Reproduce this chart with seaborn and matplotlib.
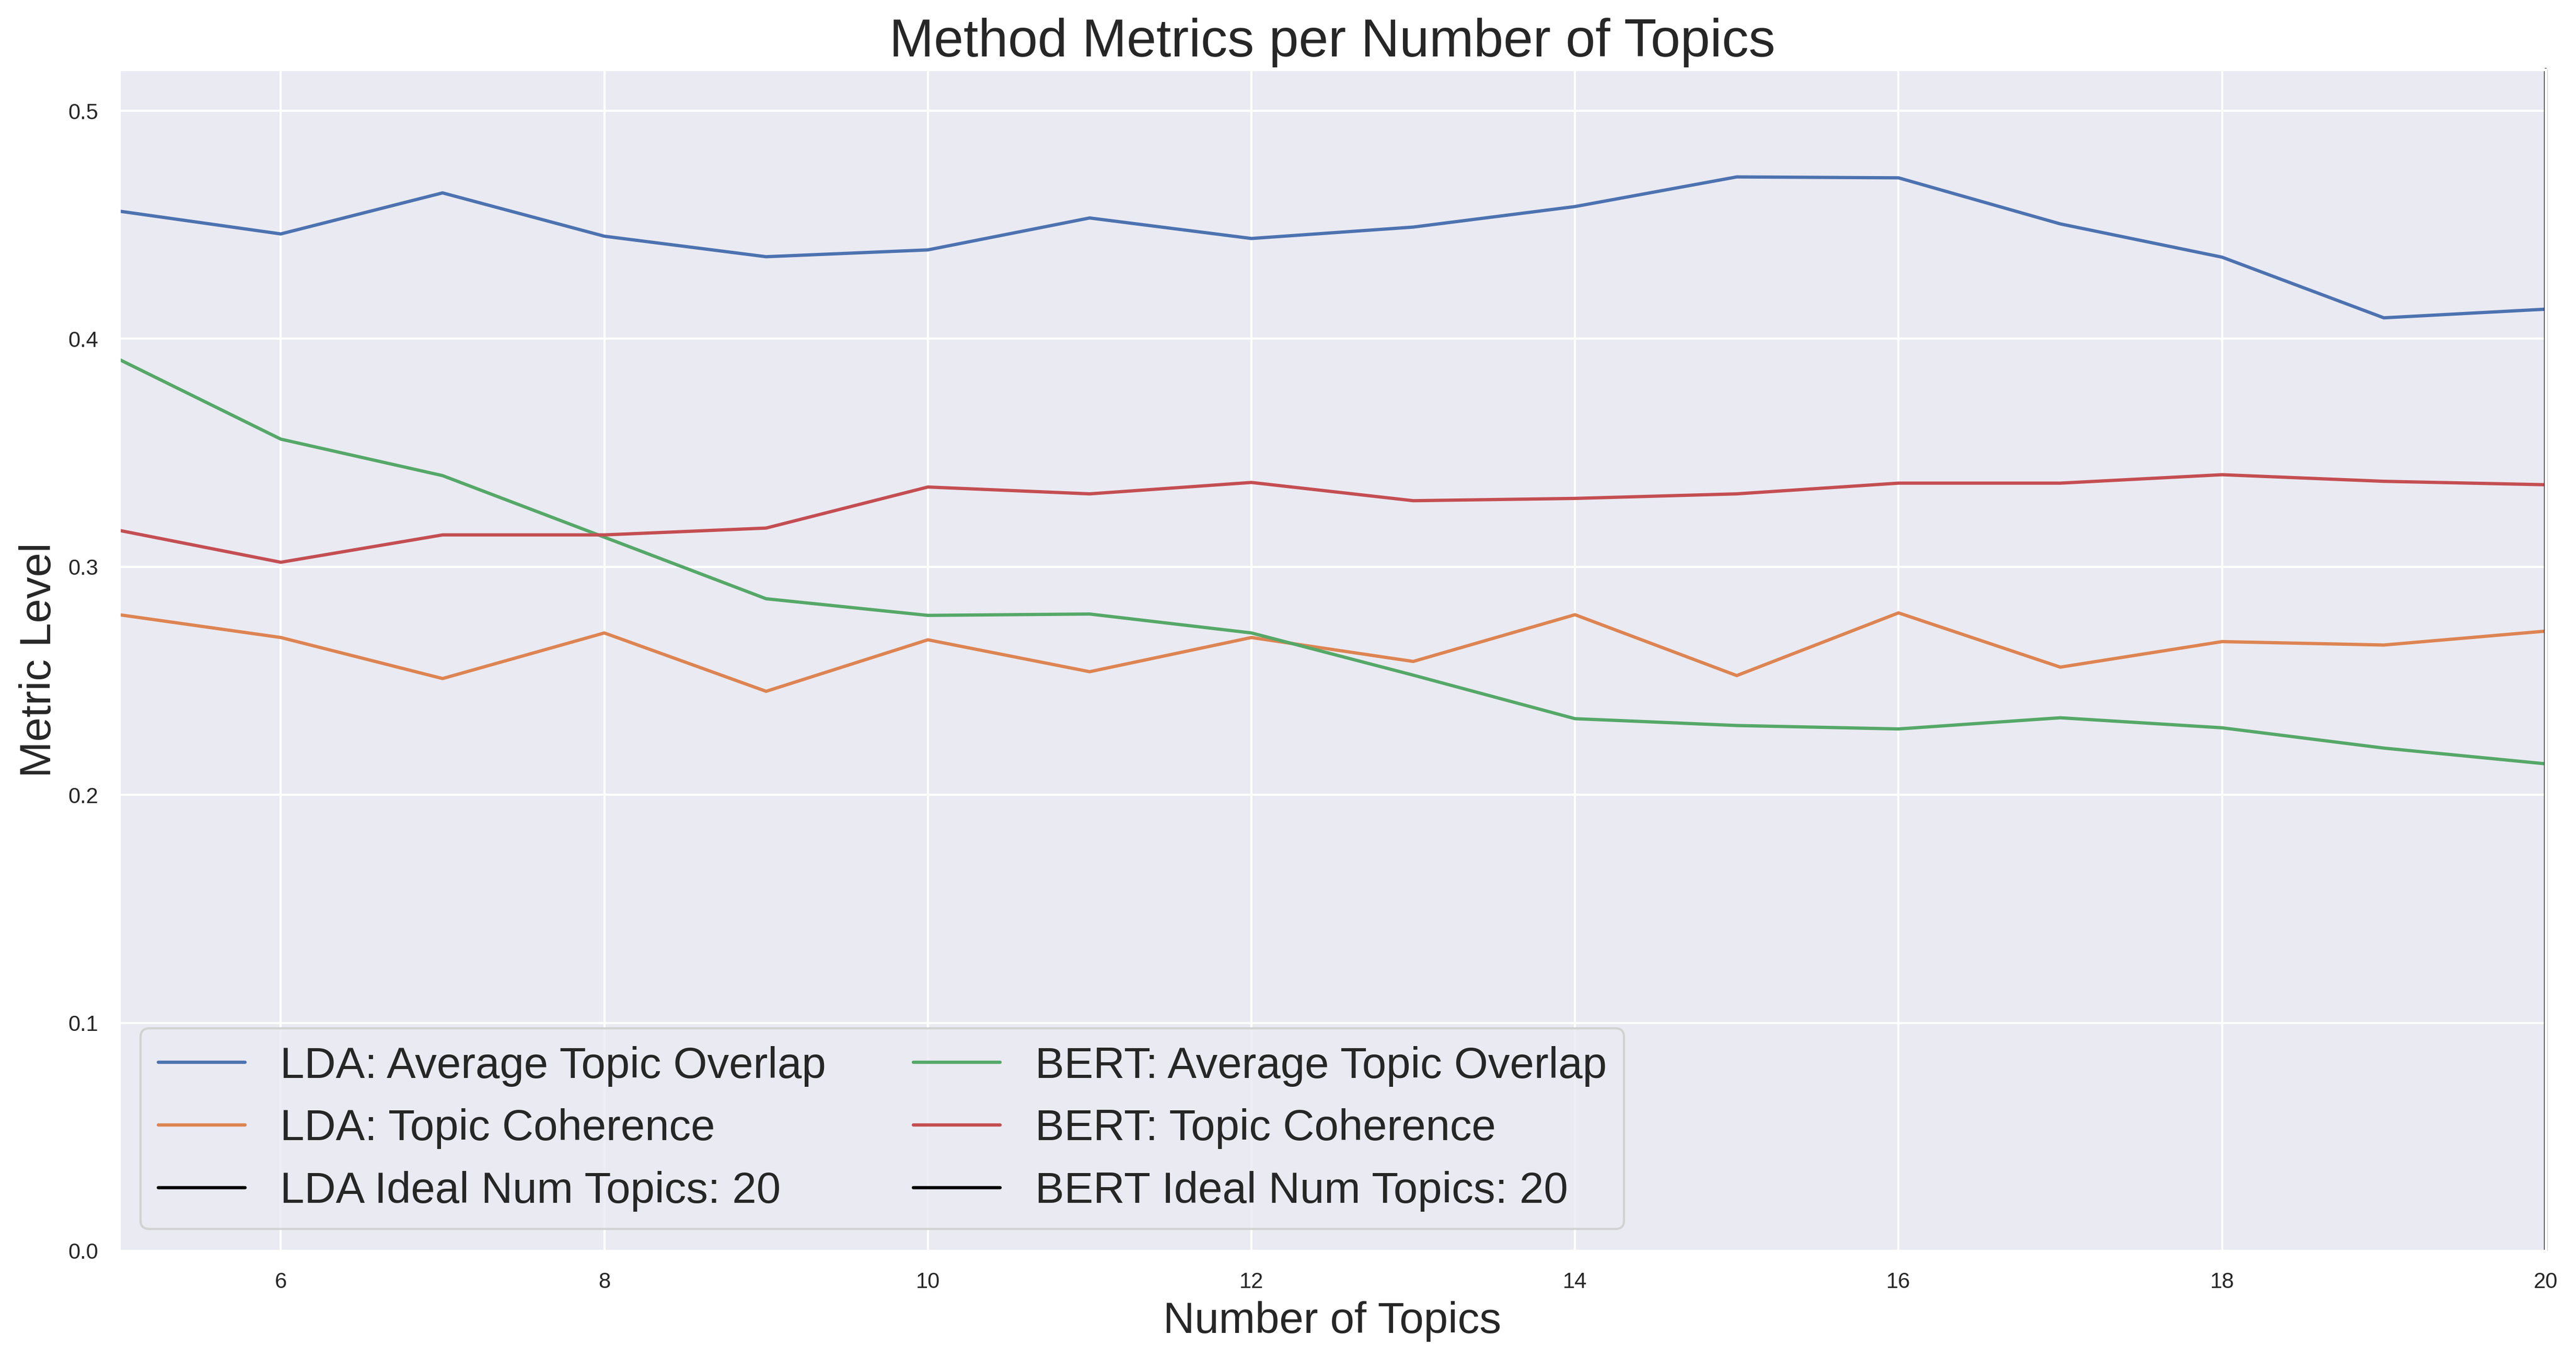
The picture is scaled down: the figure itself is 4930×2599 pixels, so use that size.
import pandas as pd
import matplotlib.pyplot as plt
import seaborn as sns

# values
num_topics = list(range(5, 21))
lda_overlap = [0.456, 0.446, 0.464, 0.445, 0.436, 0.439, 0.453, 0.444, 0.449, 0.458,
               0.471, 0.4706, 0.4504, 0.4358, 0.4092, 0.413]
lda_coherence = [0.279, 0.269, 0.251, 0.271, 0.2454, 0.268, 0.254, 0.269, 0.2585, 0.279,
                 0.2523, 0.2798, 0.256, 0.2672, 0.2657, 0.2718]
bert_overlap = [0.391, 0.356, 0.340, 0.313, 0.286, 0.2787, 0.2793, 0.271, 0.2525, 0.2334,
                0.2304, 0.2289, 0.2338, 0.2294, 0.2205, 0.2136]
bert_coherence = [0.316, 0.302, 0.314, 0.314, 0.317, 0.335, 0.332, 0.337, 0.329, 0.330,
                  0.332, 0.3367, 0.3367, 0.3404, 0.3375, 0.336]
lda_ideal = 20
bert_ideal = 20

sns.set_theme(style="darkgrid")
plt.rcParams['font.family'] = ['Liberation Sans', 'DejaVu Sans']

df = pd.DataFrame({
    "topics": num_topics,
    "LDA: Average Topic Overlap": lda_overlap,
    "LDA: Topic Coherence": lda_coherence,
    "BERT: Average Topic Overlap": bert_overlap,
    "BERT: Topic Coherence": bert_coherence,
})

fig, ax = plt.subplots(figsize=(4930 / 300, 2599 / 300), dpi=300)
fig.subplots_adjust(left=0.0462, right=0.9882, top=0.9488, bottom=0.0789)

pal = sns.color_palette("deep")
sns.lineplot(data=df, x="topics", y="LDA: Average Topic Overlap", color=pal[0],
             label="LDA: Average Topic Overlap", ax=ax)
sns.lineplot(data=df, x="topics", y="LDA: Topic Coherence", color=pal[1],
             label="LDA: Topic Coherence", ax=ax)
ax.axvline(lda_ideal, color="black", lw=1.5, clip_on=False,
           label=f"LDA Ideal Num Topics: {lda_ideal}")
sns.lineplot(data=df, x="topics", y="BERT: Average Topic Overlap", color=pal[2],
             label="BERT: Average Topic Overlap", ax=ax)
sns.lineplot(data=df, x="topics", y="BERT: Topic Coherence", color=pal[3],
             label="BERT: Topic Coherence", ax=ax)
ax.axvline(bert_ideal, color="black", lw=1.5, clip_on=False,
           label=f"BERT Ideal Num Topics: {bert_ideal}")

ymax = max(max(lda_overlap), max(lda_coherence), max(bert_overlap), max(bert_coherence))
ax.set_xlim(min(num_topics), max(num_topics))
ax.set_ylim(0, ymax * 1.1)
ax.tick_params(labelsize=10)
ax.set_title("Method Metrics per Number of Topics", fontsize=24.5)
ax.set_xlabel("Number of Topics", fontsize=20)
ax.set_ylabel("Metric Level", fontsize=20)
ax.legend(loc="lower left", ncol=2, fontsize=20)

fig.savefig("out.png", dpi=300)
